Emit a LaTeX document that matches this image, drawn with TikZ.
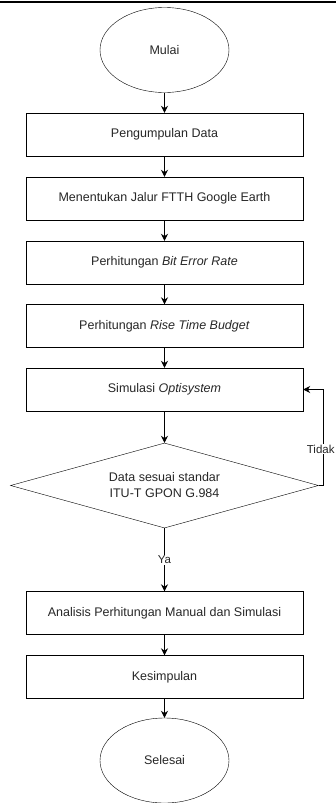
\documentclass[tikz,border=0pt]{standalone}
\usepackage{fontspec}
\setmainfont{Liberation Sans}
\usetikzlibrary{arrows.meta, positioning, shapes.geometric}

\begin{document}
\begin{tikzpicture}[x=1pt, y=-1pt,
            proc/.style={draw, rectangle, minimum width=277pt, minimum height=43pt, inner sep=0pt, font=\fontsize{12.5}{16}\selectfont, text=black!85},
            term/.style={draw, ellipse, minimum width=129pt, minimum height=85pt, inner sep=0pt, font=\fontsize{12.5}{16}\selectfont, text=black!85},
            decide/.style={draw, diamond, aspect=3.6, minimum width=308pt, minimum height=85pt, inner sep=0pt, align=center, font=\fontsize{12.5}{16}\selectfont, text=black!85},
            lbl/.style={fill=white, inner sep=1pt, font=\fontsize{11.5}{14}\selectfont, text=black!85},
            arrow/.style={-{Stealth[length=7pt, width=7pt]}, line width=0.9pt}
        ]
        \useasboundingbox (0,0) rectangle (336,803);
        \draw[line width=2.2pt] (0,2) -- (336,2);

        % --- nodes ---
        \node[term] (start) at (164.5, 50) {Mulai};
        \node[proc] (data) at (164.5, 134.5) {Pengumpulan Data};
        \node[proc] (jalur) at (164.5, 198.5) {Menentukan Jalur FTTH Google Earth};
        \node[proc] (ber) at (164.5, 262.5) {Perhitungan \textit{Bit Error Rate}};
        \node[proc] (rise) at (164.5, 326) {Perhitungan \textit{Rise Time Budget}};
        \node[proc] (sim) at (164.5, 389.5) {Simulasi \textit{Optisystem}};
        \node[decide] (cek) at (164.5, 485.5) {Data sesuai standar\\ITU-T GPON G.984};
        \node[proc] (analisis) at (164.5, 613) {Analisis Perhitungan Manual dan Simulasi};
        \node[proc] (simpul) at (164.5, 677) {Kesimpulan};
        \node[term] (end) at (164.5, 760.5) {Selesai};
        \coordinate (loop) at (323.5, 485.5);

        % --- arrows ---
        \draw[arrow] (start)--(data);
        \draw[arrow] (data)--(jalur);
        \draw[arrow] (jalur)--(ber);
        \draw[arrow] (ber)--(rise);
        \draw[arrow] (rise)--(sim);
        \draw[arrow] (sim)--(cek);
        \draw[arrow] (cek)--(analisis) node[lbl, pos=0.5] {Ya};
        \draw[arrow] (analisis)--(simpul);
        \draw[arrow] (simpul)--(end);
        \draw[arrow] (cek.east)--(loop) |- (sim.east) node[lbl, pos=0.19, anchor=east, xshift=12.5pt] {Tidak};

        \end{tikzpicture}
\end{document}
